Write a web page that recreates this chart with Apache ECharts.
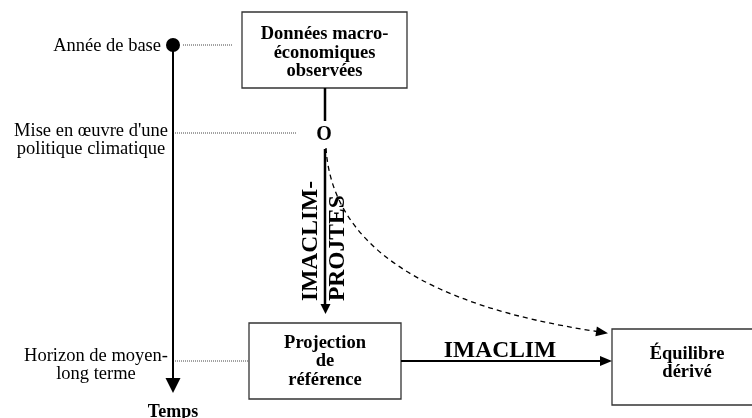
<!DOCTYPE html>
<html>
<head>
<meta charset="utf-8">
<script src="https://cdn.jsdelivr.net/npm/echarts@6/dist/echarts.min.js"></script>
<style>html,body{margin:0;padding:0;background:#fff}#c{width:752px;height:418px}</style>
</head>
<body>
<div id="c"></div>
<script>
// ---- data (texts) ----
const boxLabels = ['Données macro-\néconomiques\nobservées', 'Projection\nde\nréférence', 'Équilibre\ndérivé'];
const timeLabels = ['Année de base', "Mise en œuvre d'une\npolitique climatique", 'Horizon de moyen-\nlong terme'];
const axisTitle = ['Temps'];
const arrowLabels = ['IMACLIM-\nPROJTES', 'IMACLIM'];
const eventMark = ['O'];

// ---- layout (diagram units = pixels of a 752x418 sheet) ----
const boxLeft = [242, 249, 612];
const boxRight = [407, 401, 762];
const boxTop = [12, 323, 329];
const boxBottom = [88, 399, 405];
const boxTextY = [53, 361.5, 363];

const timeAxisX = 173;
const timeLevel = [45, 133, 361];
const guideStart = [183, 175, 175];
const guideEnd = [232, 297, 248];
const labelX = [161, 91, 96];
const labelY = [46, 140, 365];
const labelAlign = ['right', 'center', 'center'];

const SERIF = '"Liberation Serif","Times New Roman",serif';

function tri(api, tip, dx, dy, len, half) {
  const t = api.coord(tip);
  const bx = t[0] - dx * len, by = t[1] - dy * len;
  const nx = -dy, ny = dx;
  return {
    type: 'polygon',
    shape: { points: [[t[0], t[1]], [bx + nx * half, by + ny * half], [bx - nx * half, by - ny * half]] },
    style: { fill: '#000' }
  };
}
function seg(api, a, b, w, dash, color) {
  const p = api.coord(a), q = api.coord(b);
  return {
    type: 'line',
    shape: { x1: p[0], y1: p[1], x2: q[0], y2: q[1] },
    style: { stroke: color || '#000', lineWidth: w, lineDash: dash || null }
  };
}

const chart = echarts.init(document.getElementById('c'), null, { renderer: 'canvas' });
chart.setOption({
  animation: false,
  backgroundColor: '#fff',
  grid: { left: 0, right: 0, top: 0, bottom: 0 },
  xAxis: { type: 'value', min: 0, max: 752, show: false },
  yAxis: { type: 'value', min: 0, max: 418, inverse: true, show: false },
  series: [
    {
      type: 'custom', clip: false, data: boxLabels.map((_, i) => i),
      renderItem: function (params, api) {
        const i = params.dataIndex;
        const p0 = api.coord([boxLeft[i], boxTop[i]]);
        const p1 = api.coord([boxRight[i], boxBottom[i]]);
        const c = api.coord([(boxLeft[i] + boxRight[i]) / 2, boxTextY[i]]);
        return {
          type: 'group', children: [
            { type: 'rect', shape: { x: p0[0], y: p0[1], width: p1[0] - p0[0], height: p1[1] - p0[1] },
              style: { fill: '#fff', stroke: '#333', lineWidth: 1.3 } },
            { type: 'text', x: c[0], y: c[1],
              style: { text: boxLabels[i], fontFamily: SERIF, fontWeight: 'bold', fontSize: 18.5, lineHeight: 18.5,
                       fill: '#000', align: 'center', verticalAlign: 'middle' } }
          ]
        };
      }
    },
    {
      type: 'custom', clip: false, data: timeLabels.map((_, i) => i),
      renderItem: function (params, api) {
        const i = params.dataIndex;
        const c = api.coord([labelX[i], labelY[i]]);
        return {
          type: 'group', children: [
            seg(api, [guideStart[i], timeLevel[i]], [guideEnd[i], timeLevel[i]], 1, [1, 1], '#444'),
            { type: 'text', x: c[0], y: c[1],
              style: { text: timeLabels[i], fontFamily: SERIF, fontSize: 18.5, lineHeight: 17.5,
                       fill: '#000', align: labelAlign[i], verticalAlign: 'middle' } }
          ]
        };
      }
    },
    {
      type: 'custom', clip: false, data: [0],
      renderItem: function (params, api) {
        const d = api.coord([timeAxisX, timeLevel[0]]);
        const t = api.coord([timeAxisX, 412]);
        return {
          type: 'group', children: [
            seg(api, [timeAxisX, timeLevel[0]], [timeAxisX, 380], 2),
            tri(api, [timeAxisX, 393], 0, 1, 15, 7.5),
            { type: 'circle', shape: { cx: d[0], cy: d[1], r: 7 }, style: { fill: '#000' } },
            { type: 'text', x: t[0], y: t[1],
              style: { text: axisTitle[0], fontFamily: SERIF, fontWeight: 'bold', fontSize: 18, fill: '#000',
                       align: 'center', verticalAlign: 'middle' } }
          ]
        };
      }
    },
    {
      type: 'custom', clip: false, data: [0],
      renderItem: function (params, api) {
        const o = api.coord([324, 135]);
        const v = api.coord([324, 301]);
        const h = api.coord([500, 351]);
        return {
          type: 'group', children: [
            seg(api, [325, 88], [325, 121], 2.5),
            { type: 'text', x: o[0], y: o[1],
              style: { text: eventMark[0], fontFamily: SERIF, fontWeight: 'bold', fontSize: 20, fill: '#000',
                       align: 'center', verticalAlign: 'middle' } },
            seg(api, [325, 149], [325, 305], 2.5),
            tri(api, [325.5, 314], 0, 1, 10, 5),
            seg(api, [401, 361], [601, 361], 2),
            tri(api, [612, 361], 1, 0, 12, 5),
            { type: 'text', x: v[0], y: v[1], rotation: Math.PI / 2,
              style: { text: arrowLabels[0], fontFamily: SERIF, fontWeight: 'bold', fontSize: 23.5, lineHeight: 27,
                       fill: '#000', align: 'left', verticalAlign: 'middle' } },
            { type: 'text', x: h[0], y: h[1],
              style: { text: arrowLabels[1], fontFamily: SERIF, fontWeight: 'bold', fontSize: 23.5, fill: '#000',
                       align: 'center', verticalAlign: 'middle' } }
          ]
        };
      }
    },
    {
      type: 'custom', clip: false, data: [0],
      renderItem: function (params, api) {
        const s = api.coord([326, 148]);
        const cp = api.coord([335, 292]);
        const e = api.coord([597, 331.5]);
        const tipD = [608, 333.2];
        const tp = api.coord(tipD);
        let dx = tp[0] - cp[0], dy = tp[1] - cp[1];
        const L = Math.sqrt(dx * dx + dy * dy); dx /= L; dy /= L;
        return {
          type: 'group', children: [
            { type: 'bezierCurve', shape: { x1: s[0], y1: s[1], cpx1: cp[0], cpy1: cp[1], x2: e[0], y2: e[1] },
              style: { stroke: '#000', fill: null, lineWidth: 1.3, lineDash: [5, 4] } },
            tri(api, tipD, dx, dy, 12, 5)
          ]
        };
      }
    }
  ]
});
</script>
</body>
</html>
